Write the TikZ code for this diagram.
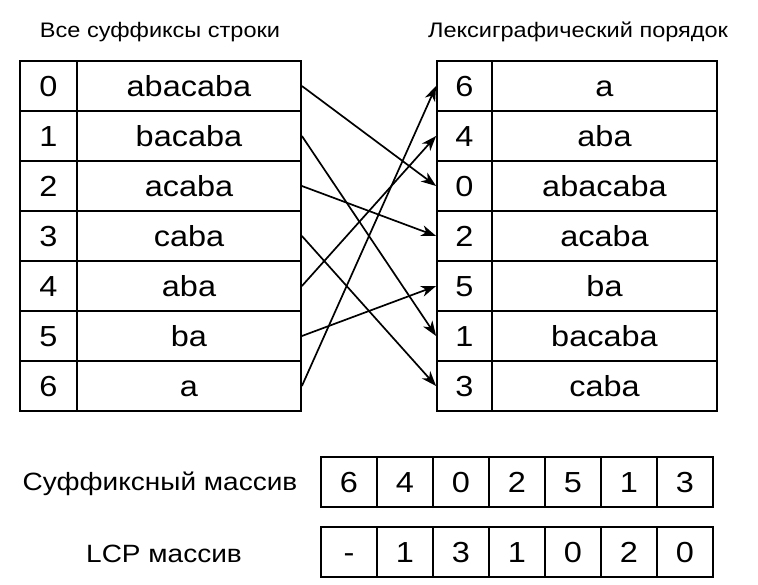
\documentclass[tikz,border=0pt]{standalone}
\usepackage{fontspec}
\setmainfont[FakeStretch=1.12]{Liberation Sans}
\usetikzlibrary{arrows.meta}
\tikzset{
  cell/.style={draw, line width=1.8pt, minimum height=50pt, inner sep=0pt, text height=20.5pt, text depth=0pt, font=\fontsize{29}{30}\selectfont},
  head/.style={font=\fontsize{21}{24}\selectfont},
  rowlabel/.style={font=\fontsize{25}{28}\selectfont},
  arr/.style={line width=1.7pt, -{Stealth[length=15pt,width=11pt,inset=4.5pt]}},
}
\begin{document}
\begin{tikzpicture}[x=1pt,y=-1pt]
  \useasboundingbox (0,0) rectangle (758,584);
  \node[head] (lefthead) at (160,32) {Все суффиксы строки};
  \node[head] (righthead) at (578,32) {Лексиграфический порядок};

  % all suffixes
  \foreach \i/\s in {0/abacaba,1/bacaba,2/acaba,3/caba,4/aba,5/ba,6/a} {
    \node[cell, minimum width=57pt] (li\i) at (48.5,86+50*\i) {\i};
    \node[cell, minimum width=224pt] (ls\i) at (189,86+50*\i) {\s};
  }
  % sorted suffixes
  \foreach \k/\i/\s in {0/6/a,1/4/aba,2/0/abacaba,3/2/acaba,4/5/ba,5/1/bacaba,6/3/caba} {
    \node[cell, minimum width=55pt] (ri\i) at (464.5,86+50*\k) {\i};
    \node[cell, minimum width=225pt] (rs\i) at (604.5,86+50*\k) {\s};
    \draw[arr] (ls\i.east) -- (ri\i.west);
  }

  \node[rowlabel] (salabel) at (160,484) {Суффиксный массив};
  \node[rowlabel] (lcplabel) at (164,554) {LCP массив};
  \foreach \k/\v in {0/6,1/4,2/0,3/2,4/5,5/1,6/3}
    \node[cell, minimum width=56pt] (sa\k) at (349+56*\k,482) {\v};
  \foreach \k/\v in {0/-,1/1,2/3,3/1,4/0,5/2,6/0}
    \node[cell, minimum width=56pt] (lcp\k) at (349+56*\k,552) {\v};
\end{tikzpicture}
\end{document}
